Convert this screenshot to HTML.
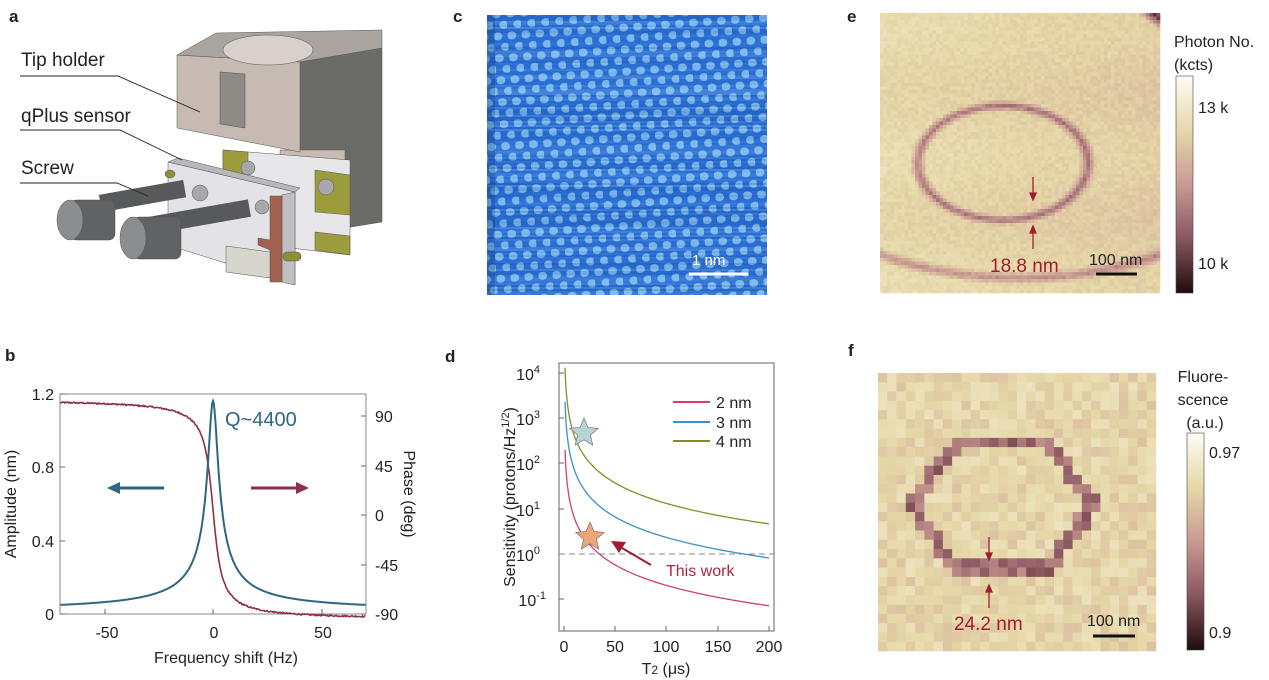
<!DOCTYPE html>
<html><head><meta charset="utf-8">
<style>
html,body{margin:0;padding:0;background:#fff;width:1269px;height:680px;overflow:hidden}
svg{display:block}
text{font-family:"Liberation Sans",Arial,sans-serif}
</style></head><body>
<svg id="s" width="1269" height="680" viewBox="0 0 1269 680" xmlns="http://www.w3.org/2000/svg">
<defs>
<pattern id="lat" width="14" height="22" patternUnits="userSpaceOnUse" patternTransform="rotate(-4)">
<rect width="14" height="22" fill="#2a70d4"/>
<ellipse cx="4" cy="5" rx="4.6" ry="4" fill="#8cc4f4" opacity="0.85"/>
<ellipse cx="11" cy="16" rx="4.6" ry="4" fill="#8cc4f4" opacity="0.85"/>
</pattern>
<linearGradient id="cbE" x1="0" y1="1" x2="0" y2="0">
<stop offset="0" stop-color="#1e0c0c"/><stop offset="0.25" stop-color="#8a5660"/><stop offset="0.5" stop-color="#c99a92"/><stop offset="0.75" stop-color="#e6d8a8"/><stop offset="1" stop-color="#fdfcf6"/>
</linearGradient>
</defs>

<g font-weight="bold" font-size="17" fill="#222">
<text x="9" y="22">a</text><text x="5" y="361">b</text><text x="453" y="22">c</text>
<text x="445" y="362">d</text><text x="847" y="22">e</text><text x="848" y="356">f</text>
</g>

<!-- Panel a drawing -->
<g stroke="#555" stroke-width="0.5">
<polygon points="300,62 382,48 382,222 345,228 300,228" fill="#6b6b68"/>
<polygon points="280,150 345,150 345,228 280,228" fill="#c8bbb2"/>
<polygon points="177,55 300,62 300,152 177,128" fill="#c6bab2"/>
<polygon points="220,72 245,74 245,128 220,124" fill="#8e8a86"/>
<polygon points="177,55 216,33 382,30 382,48 300,62" fill="#aaa49e"/>
<ellipse cx="268" cy="50" rx="45" ry="15" fill="#d8d0ca"/>
<polygon points="223,150 350,160 350,255 223,240" fill="#e7e6e8"/>
<polygon points="223,150 248,152 248,175 223,172" fill="#9c9c3c"/>
<polygon points="315,170 350,175 350,215 315,212" fill="#9c9c3c"/>
<polygon points="315,232 350,236 350,255 315,250" fill="#9c9c3c"/>
<polygon points="168,162 295,192 295,285 168,245" fill="#e3e2e6"/>
<polygon points="168,162 178,158 300,188 295,192" fill="#b8b8bc"/>
<polygon points="282,195 295,192 295,285 282,282" fill="#c2bfc4"/>
<polygon points="270,196 282,196 282,282 270,282 270,250 258,245 258,238 270,240" fill="#a2604e"/>
<polygon points="226,246 270,252 270,278 226,272" fill="#d6d6cc"/>
<circle cx="200" cy="193" r="8" fill="#a8a8ac"/><circle cx="262" cy="207" r="7" fill="#a8a8ac"/>
<circle cx="326" cy="187" r="8" fill="#a8a8ac"/><circle cx="248" cy="168" r="7" fill="#a8a8ac"/>
<ellipse cx="170" cy="174" rx="5" ry="4" fill="#8f8f38"/>
<rect x="283" y="252" width="18" height="9" rx="4" fill="#8f8f38"/>
<rect x="100" y="188" width="85" height="17" fill="#58595b" transform="rotate(-10 140 196)"/>
<rect x="140" y="210" width="110" height="17" fill="#58595b" transform="rotate(-10 190 218)"/>
<rect x="70" y="200" width="45" height="40" rx="6" fill="#616264"/>
<ellipse cx="70" cy="220" rx="13" ry="20" fill="#8c8d90"/>
<rect x="133" y="217" width="48" height="42" rx="6" fill="#616264"/>
<ellipse cx="133" cy="238" rx="13" ry="21" fill="#8c8d90"/>
</g>
<g font-size="19" fill="#222">
<text x="21" y="66">Tip holder</text><text x="21" y="122">qPlus sensor</text><text x="21" y="174">Screw</text>
</g>
<g stroke="#222" stroke-width="0.9" fill="none">
<polyline points="20,76 118,76 200,112"/><polyline points="20,130 120,130 182,160"/><polyline points="20,183 117,183 148,196"/>
</g>

<!-- Panel c -->
<rect x="487" y="15" width="280" height="280" fill="url(#lat)"/>
<g id="cnoise"></g>
<line x1="689" y1="274" x2="748" y2="274" stroke="#fff" stroke-width="3"/>
<text x="692" y="265" font-size="15" fill="#fff">1 nm</text>

<!-- Panel b -->
<g font-size="16" fill="#222">
<rect x="60" y="394" width="306" height="220" fill="none" stroke="#888" stroke-width="1"/>
<g stroke="#666" stroke-width="1">
<line x1="60" y1="614" x2="65" y2="614"/><line x1="60" y1="541" x2="65" y2="541"/><line x1="60" y1="467" x2="65" y2="467"/><line x1="60" y1="394" x2="65" y2="394"/>
<line x1="105" y1="614" x2="105" y2="609"/><line x1="213" y1="614" x2="213" y2="609"/><line x1="322" y1="614" x2="322" y2="609"/>
<line x1="366" y1="416" x2="361" y2="416"/><line x1="366" y1="466" x2="361" y2="466"/><line x1="366" y1="515" x2="361" y2="515"/><line x1="366" y1="565" x2="361" y2="565"/><line x1="366" y1="614" x2="361" y2="614"/>
</g>
<text x="54" y="620" text-anchor="end">0</text><text x="54" y="547" text-anchor="end">0.4</text><text x="54" y="473" text-anchor="end">0.8</text><text x="54" y="400" text-anchor="end">1.2</text>
<text x="107" y="638" text-anchor="middle">-50</text><text x="214" y="638" text-anchor="middle">0</text><text x="323" y="638" text-anchor="middle">50</text>
<text x="375" y="422">90</text><text x="375" y="472">45</text><text x="375" y="521">0</text><text x="375" y="571">-45</text><text x="375" y="620">-90</text>
<text x="226" y="663" text-anchor="middle">Frequency shift (Hz)</text>
<text transform="translate(16,504) rotate(-90)" text-anchor="middle">Amplitude (nm)</text>
<text transform="translate(404,494) rotate(90)" text-anchor="middle">Phase (deg)</text>
<text x="225" y="426" font-size="20" fill="#2f6783">Q~4400</text>
</g>
<path id="phase" fill="none" stroke="#8a3049" stroke-width="1.6"/>
<path id="amp" fill="none" stroke="#2f6783" stroke-width="2"/>
<line x1="164" y1="488" x2="118" y2="488" stroke="#2f6783" stroke-width="3"/><polygon points="107,488 120,482 120,494" fill="#2f6783"/>
<line x1="251" y1="488" x2="297" y2="488" stroke="#8a3049" stroke-width="3"/><polygon points="309,488 296,482 296,494" fill="#8a3049"/>

<!-- Panel d -->
<g font-size="16" fill="#222">
<rect x="559" y="363" width="215" height="268" fill="none" stroke="#666" stroke-width="1"/>
<g stroke="#666"><line x1="559" y1="373" x2="564" y2="373"/><line x1="559" y1="418" x2="564" y2="418"/><line x1="559" y1="463" x2="564" y2="463"/><line x1="559" y1="509" x2="564" y2="509"/><line x1="559" y1="554" x2="564" y2="554"/><line x1="559" y1="599" x2="564" y2="599"/>
<line x1="564" y1="631" x2="564" y2="626"/><line x1="615" y1="631" x2="615" y2="626"/><line x1="666" y1="631" x2="666" y2="626"/><line x1="718" y1="631" x2="718" y2="626"/><line x1="769" y1="631" x2="769" y2="626"/></g>
<text x="540" y="380" text-anchor="end">10<tspan font-size="11" dy="-7">4</tspan></text>
<text x="540" y="425" text-anchor="end">10<tspan font-size="11" dy="-7">3</tspan></text>
<text x="540" y="470" text-anchor="end">10<tspan font-size="11" dy="-7">2</tspan></text>
<text x="540" y="516" text-anchor="end">10<tspan font-size="11" dy="-7">1</tspan></text>
<text x="540" y="561" text-anchor="end">10<tspan font-size="11" dy="-7">0</tspan></text>
<text x="546" y="606" text-anchor="end">10<tspan font-size="11" dy="-7">-1</tspan></text>
<text x="564" y="652" text-anchor="middle">0</text><text x="615" y="652" text-anchor="middle">50</text><text x="666" y="652" text-anchor="middle">100</text><text x="718" y="652" text-anchor="middle">150</text><text x="769" y="652" text-anchor="middle">200</text>
<text x="666" y="674" text-anchor="middle">T<tspan font-size="12">2</tspan> (μs)</text>
<text transform="translate(515,497) rotate(-90)" text-anchor="middle">Sensitivity (protons/Hz<tspan font-size="11" dy="-6">1/2</tspan><tspan dy="6">)</tspan></text>
<text x="716" y="408">2 nm</text><text x="716" y="428">3 nm</text><text x="716" y="447">4 nm</text>
<text x="666" y="576" fill="#b2243c">This work</text>
</g>
<line x1="673" y1="402" x2="710" y2="402" stroke="#d2406a" stroke-width="2"/>
<line x1="673" y1="422" x2="710" y2="422" stroke="#3b8fc8" stroke-width="2"/>
<line x1="673" y1="441" x2="710" y2="441" stroke="#8a8a28" stroke-width="2"/>
<line x1="559" y1="554" x2="774" y2="554" stroke="#888" stroke-dasharray="6,4"/>
<path id="c2" fill="none" stroke="#d2406a" stroke-width="1.3"/>
<path id="c3" fill="none" stroke="#3b8fc8" stroke-width="1.3"/>
<path id="c4" fill="none" stroke="#8a8a28" stroke-width="1.3"/>
<polygon id="st1" fill="#b7d3d6" stroke="#777" stroke-width="0.7"/>
<polygon id="st2" fill="#f0a47a" stroke="#777" stroke-width="0.7"/>
<line x1="651" y1="565" x2="622" y2="548" stroke="#a01e30" stroke-width="2"/><polygon points="611,541 626,542 619,553" fill="#a01e30"/>

<!-- Panel e -->
<g id="eimg"></g>
<rect x="1176" y="76" width="17" height="217" fill="url(#cbE)" stroke="#444" stroke-width="0.6"/>
<g font-size="16" fill="#222"><text x="1174" y="47">Photon No.</text><text x="1174" y="70">(kcts)</text>
<text x="1198" y="113">13 k</text><text x="1198" y="269">10 k</text></g>
<g stroke="#a01e30" stroke-width="1.3" fill="#a01e30"><line x1="1033" y1="177" x2="1033" y2="196"/><polygon points="1030,193 1036,193 1033,200"/>
<line x1="1033" y1="249" x2="1033" y2="230"/><polygon points="1030,233 1036,233 1033,226"/></g>
<text x="990" y="272" font-size="19" fill="#a01e30">18.8 nm</text>
<text x="1089" y="265" font-size="16" fill="#222">100 nm</text>
<line x1="1096" y1="274" x2="1137" y2="274" stroke="#111" stroke-width="3"/>

<!-- Panel f -->
<g id="fimg"></g>
<rect x="1187" y="433" width="17" height="217" fill="url(#cbE)" stroke="#444" stroke-width="0.6"/>
<g font-size="16" fill="#222"><text x="1203" y="382" text-anchor="middle">Fluore-</text><text x="1203" y="405" text-anchor="middle">scence</text><text x="1205" y="428" text-anchor="middle">(a.u.)</text>
<text x="1209" y="458">0.97</text><text x="1209" y="638">0.9</text></g>
<g stroke="#a01e30" stroke-width="1.3" fill="#a01e30"><line x1="989" y1="537" x2="989" y2="556"/><polygon points="986,553 992,553 989,560"/>
<line x1="989" y1="608" x2="989" y2="589"/><polygon points="986,592 992,592 989,585"/></g>
<text x="954" y="630" font-size="19" fill="#a01e30">24.2 nm</text>
<text x="1087" y="626" font-size="16" fill="#222">100 nm</text>
<line x1="1093" y1="636" x2="1135" y2="636" stroke="#111" stroke-width="3"/>
</svg>
<script>
(function(){
var NS="http://www.w3.org/2000/svg";
var seed=12345;function rnd(){seed=(seed*1103515245+12345)%2147483648;return seed/2147483648;}
function mk(tag,attrs,parent){var e=document.createElementNS(NS,tag);for(var k in attrs)e.setAttribute(k,attrs[k]);parent.appendChild(e);return e;}
var a="",p="";
for(var i=0;i<=400;i++){var f=-70+140*i/400;var x=213+f*2.18;
var A=1.15/Math.sqrt(1+Math.pow(f/2.3,2))+0.012;
a+=(i?"L":"M")+x.toFixed(1)+","+(614-A*183.3).toFixed(1);
var ph=5-100*(2/Math.PI)*Math.atan(f/3)+ (rnd()-0.5)*1.2;
p+=(i?"L":"M")+x.toFixed(1)+","+(515-ph*1.1).toFixed(1);}
document.getElementById("amp").setAttribute("d",a);document.getElementById("phase").setAttribute("d",p);
function ly(v){return 373+(4-Math.log10(v))*45.2;}
[["c2",200],["c3",2300],["c4",13000]].forEach(function(c){var d="";for(var i=0;i<=300;i++){var t=1+199*Math.pow(i/300,2);var v=c[1]*Math.pow(t,-1.5);d+=(i?"L":"M")+(564+t*1.025).toFixed(1)+","+Math.max(ly(v),364).toFixed(1);}document.getElementById(c[0]).setAttribute("d",d);});
function star(id,cx,cy,R){var r=R*0.45,s="";for(var k=0;k<10;k++){var ang=-Math.PI/2+k*Math.PI/5;var rr=k%2?r:R;s+=(cx+rr*Math.cos(ang)).toFixed(1)+","+(cy+rr*Math.sin(ang)).toFixed(1)+" ";}document.getElementById(id).setAttribute("points",s);}
star("st1",584,433,15);star("st2",590,537,15);
var cg=document.getElementById("cnoise");
for(var y=15;y<295;y+=2){var o=(rnd()-0.5)*0.35;mk("rect",{x:487,y:y,width:280,height:2,fill:o>0?"#bfe0ff":"#0a2a70",opacity:Math.abs(o)},cg);}
mk("rect",{x:487,y:15,width:8,height:280,fill:"#0a2a70",opacity:0.25},cg);
var stops=[[0,[30,12,12]],[0.25,[138,86,96]],[0.5,[201,154,146]],[0.75,[230,216,168]],[1,[253,252,246]]];
function cm(v){v=Math.max(0,Math.min(1,v));for(var i=1;i<stops.length;i++){if(v<=stops[i][0]){var t=(v-stops[i-1][0])/(stops[i][0]-stops[i-1][0]);var c=stops[i-1][1].map(function(q,j){return Math.round(q+(stops[i][1][j]-q)*t);});return "rgb("+c.join(",")+")";}}return "rgb(253,252,246)";}
var eg=document.getElementById("eimg");var N=80,cs=280/N;
for(var i=0;i<N;i++)for(var j=0;j<N;j++){var x=880+i*cs+cs/2,y=13+j*cs+cs/2;
var v=0.76+(rnd()-0.5)*0.07+0.02*Math.sin(y/20)-0.06*(x-880)/280;
var d1=Math.abs(Math.sqrt(Math.pow((x-1003)/85,2)+Math.pow((y-163)/57,2))-1)*60;if(d1<6)v-=0.38*(1-d1/6);
var d2=Math.abs(Math.sqrt(Math.pow((x-1020)/260,2)+Math.pow((y-130)/148,2))-1)*148;if(d2<7)v-=0.3*(1-d2/7);
var d3=Math.abs(Math.sqrt(Math.pow(x-1300,2)+Math.pow(y+170,2))-235);if(d3<10)v-=0.55*(1-d3/10);
mk("rect",{x:(880+i*cs).toFixed(2),y:(13+j*cs).toFixed(2),width:cs+0.3,height:cs+0.3,fill:cm(v)},eg);}
var fg=document.getElementById("fimg");N=30;cs=278/N;
for(var i=0;i<N;i++)for(var j=0;j<N;j++){var x=878+i*cs+cs/2,y=373+j*cs+cs/2;
var v=0.74+(rnd()-0.5)*0.15;
var dx=(x-1002)/80,dy=(y-505)/62;var r=Math.max(Math.abs(dx)*0.87+Math.abs(dy)*0.5,Math.abs(dy));
var d=Math.abs(r-1)*62;if(d<5.5)v=0.22+rnd()*0.25;
mk("rect",{x:(878+i*cs).toFixed(2),y:(373+j*cs).toFixed(2),width:cs+0.3,height:cs+0.3,fill:cm(v)},fg);}
})();
</script>
</body></html>
